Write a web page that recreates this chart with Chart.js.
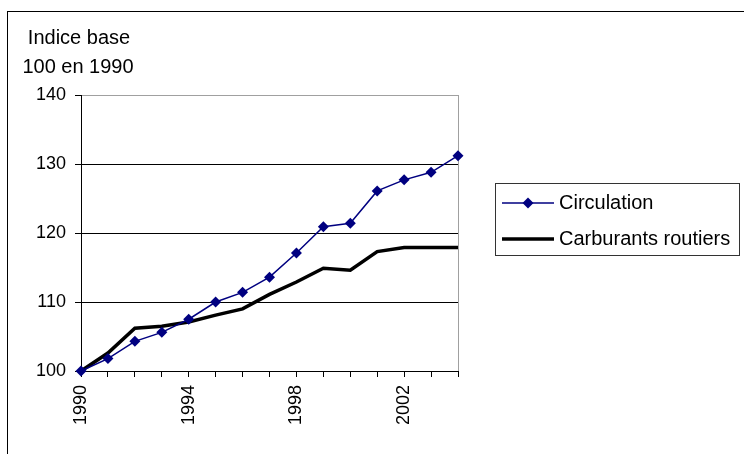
<!DOCTYPE html>
<html>
<head>
<meta charset="utf-8">
<script src="https://cdn.jsdelivr.net/npm/chart.js@4"></script>
<style>
  html, body { margin: 0; padding: 0; background: #fff; }
  #wrap { width: 744px; height: 454px; }
</style>
</head>
<body>
<div id="wrap"><canvas id="chart" width="744" height="454"></canvas></div>
<script>
// years on the x axis
const years = ['1990', '1991', '1992', '1993', '1994', '1995', '1996', '1997',
  '1998', '1999', '2000', '2001', '2002', '2003', '2004'];
// indice base 100 en 1990
const circulation = [100, 101.8, 104.3, 105.6, 107.5, 110, 111.4, 113.6,
  117.1, 120.9, 121.4, 126.1, 127.7, 128.8, 131.2];
const carburants = [100, 102.6, 106.2, 106.5, 107.1, 108.1, 109, 111.1,
  112.9, 114.9, 114.6, 117.3, 117.9, 117.9, 117.9];
const yTicks = [100, 110, 120, 130, 140];
const titleLines = ['Indice base', '100 en 1990'];
const seriesNames = ['Circulation', 'Carburants routiers'];

const FONT = '"Liberation Sans", Arial, sans-serif';
const NAVY = '#000080';

// frame, title, right border and legend drawn by hand
const decor = {
  id: 'decor',
  beforeDatasetsDraw(chart) {
    const { ctx, chartArea } = chart;
    ctx.save();
    ctx.strokeStyle = '#a0a0a0';
    ctx.lineWidth = 1;
    ctx.beginPath();
    ctx.moveTo(Math.round(chartArea.right) + 0.5, chartArea.top);
    ctx.lineTo(Math.round(chartArea.right) + 0.5, chartArea.bottom);
    ctx.stroke();
    ctx.restore();
  },
  afterDraw(chart) {
    const ctx = chart.ctx;
    ctx.save();
    // outer frame
    ctx.strokeStyle = '#000';
    ctx.lineWidth = 1;
    ctx.strokeRect(7.5, 11.5, 760, 460);

    // axis title
    ctx.fillStyle = '#000';
    ctx.font = '20px ' + FONT;
    ctx.textAlign = 'center';
    ctx.textBaseline = 'middle';
    ctx.fillText(titleLines[0], 79, 38);
    ctx.fillText(titleLines[1], 78, 67);

    // legend
    ctx.strokeStyle = '#333';
    ctx.strokeRect(495.5, 183.5, 244, 72);
    const rows = [203, 239];
    ctx.strokeStyle = NAVY;
    ctx.lineWidth = 1.5;
    ctx.beginPath();
    ctx.moveTo(502, rows[0]);
    ctx.lineTo(554, rows[0]);
    ctx.stroke();
    ctx.fillStyle = NAVY;
    ctx.beginPath();
    ctx.moveTo(528, rows[0] - 5.5);
    ctx.lineTo(533.5, rows[0]);
    ctx.lineTo(528, rows[0] + 5.5);
    ctx.lineTo(522.5, rows[0]);
    ctx.closePath();
    ctx.fill();
    ctx.strokeStyle = '#000';
    ctx.lineWidth = 3.5;
    ctx.beginPath();
    ctx.moveTo(502, rows[1]);
    ctx.lineTo(554, rows[1]);
    ctx.stroke();
    ctx.fillStyle = '#000';
    ctx.font = '20px ' + FONT;
    ctx.textAlign = 'left';
    ctx.fillText(seriesNames[0], 559, rows[0]);
    ctx.fillText(seriesNames[1], 559, rows[1]);
    ctx.restore();
  }
};

new Chart(document.getElementById('chart'), {
  type: 'line',
  data: {
    labels: years,
    datasets: [
      {
        label: seriesNames[0],
        data: circulation,
        borderColor: NAVY,
        backgroundColor: NAVY,
        borderWidth: 1.5,
        pointStyle: 'rectRot',
        pointRadius: 5.5,
        pointBorderWidth: 0,
        tension: 0,
        clip: false
      },
      {
        label: seriesNames[1],
        data: carburants,
        borderColor: '#000',
        borderWidth: 3.5,
        pointRadius: 0,
        tension: 0,
        clip: false
      }
    ]
  },
  options: {
    responsive: false,
    animation: false,
    layout: { padding: { top: 95, right: 286, left: 0, bottom: 0 } },
    plugins: {
      legend: { display: false },
      tooltip: { enabled: false }
    },
    scales: {
      x: {
        offset: false,
        grid: { drawOnChartArea: false, color: '#000', tickLength: 6 },
        border: { color: '#000', width: 1 },
        ticks: {
          autoSkip: false,
          maxRotation: 90,
          minRotation: 90,
          padding: 8,
          color: '#000',
          font: { family: FONT, size: 18 },
          callback: (v, i) => (i % 4 === 0 ? years[i] : '')
        },
        afterFit: s => { s.height = 83; }
      },
      y: {
        min: yTicks[0],
        max: yTicks[yTicks.length - 1],
        grid: {
          color: c => (c.tick && c.tick.value === 140 ? '#a0a0a0' : '#000'),
          tickColor: '#000',
          tickLength: 6
        },
        border: { color: '#000', width: 1 },
        ticks: {
          stepSize: 10,
          padding: 9,
          color: '#000',
          font: { family: FONT, size: 18 }
        },
        afterBuildTicks: s => { s.ticks = yTicks.map(v => ({ value: v })); },
        afterFit: s => { s.width = 81; }
      }
    }
  },
  plugins: [decor]
});
</script>
</body>
</html>
